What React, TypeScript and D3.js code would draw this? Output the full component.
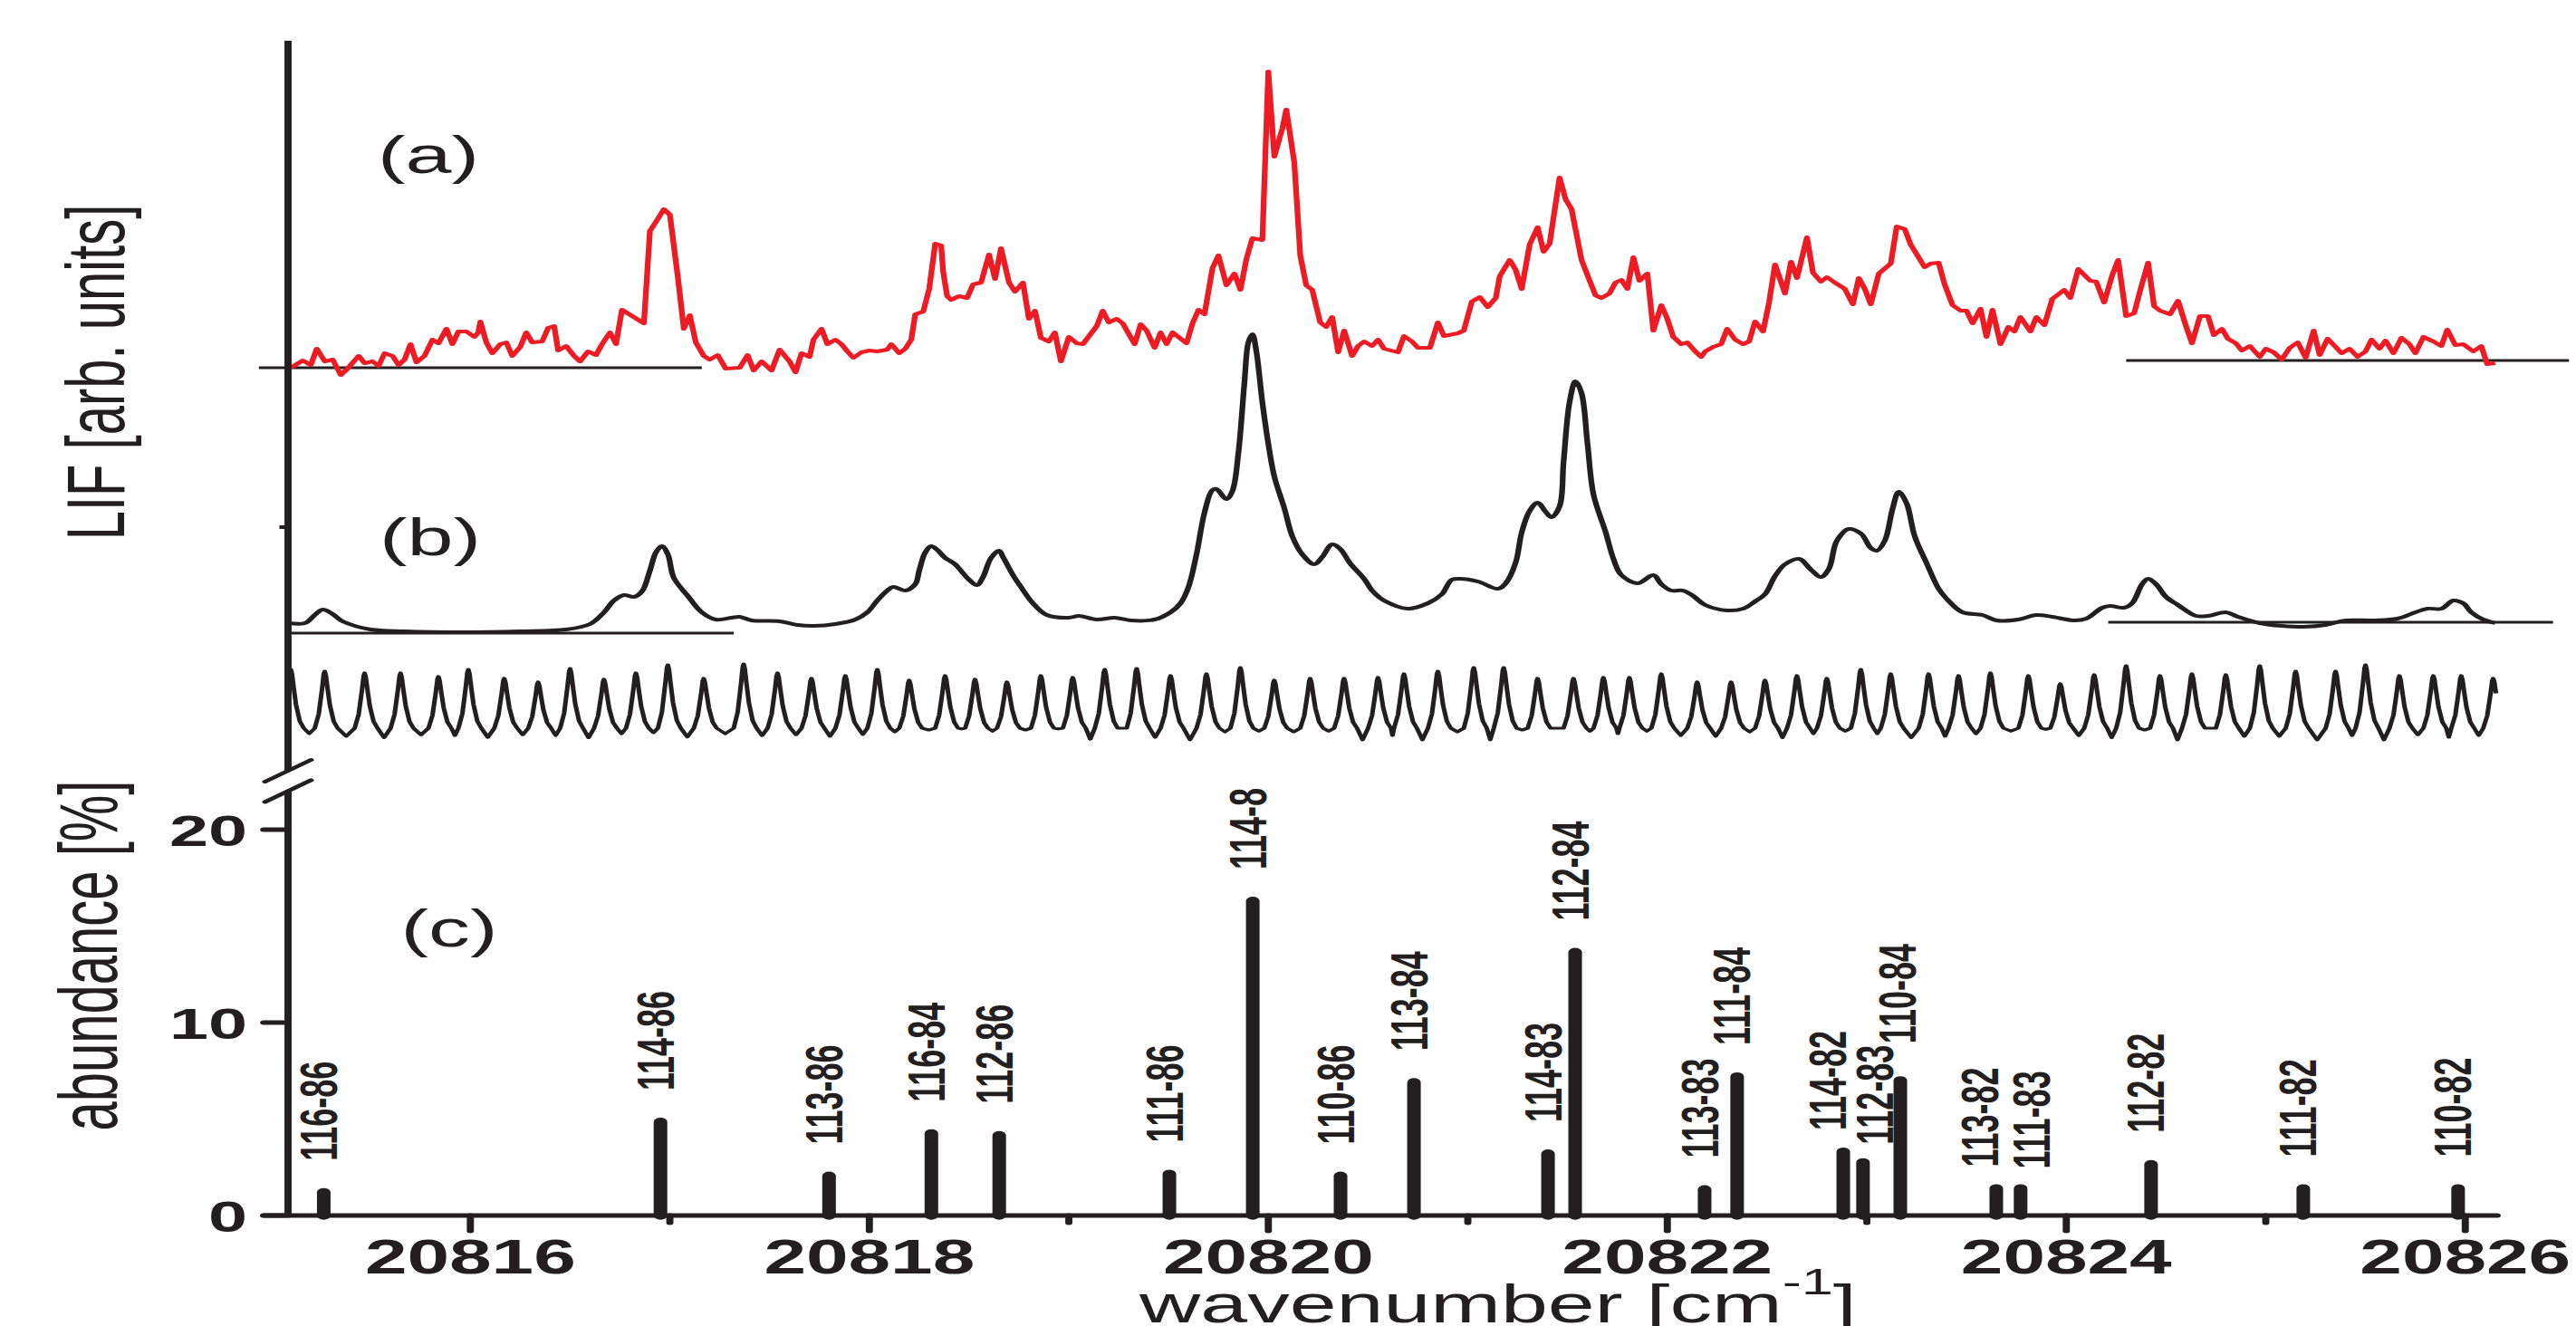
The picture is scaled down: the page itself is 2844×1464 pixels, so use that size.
import React from 'react';
import * as d3 from 'd3';

// ---------------- data ----------------
// (a) measured LIF spectrum, red: [wavenumber cm^-1, intensity arb.]
const traceA: [number, number][] = [
[20815.10,0],[20815.16,2],[20815.20,0.75],[20815.23,5.25],[20815.27,1.75],[20815.31,2.25],[20815.35,-2],[20815.38,-0.5],[20815.44,3.25],[20815.47,1.25],[20815.51,1.75],[20815.54,0.5],[20815.57,4],[20815.61,3.25],[20815.64,0.75],[20815.67,2.25],[20815.70,6.5],[20815.73,1.5],[20815.77,3.25],[20815.81,7.75],[20815.84,6.75],[20815.88,10.75],[20815.91,6.5],[20815.94,10],[20815.98,10],
[20816.02,8.5],[20816.04,9.75],[20816.05,12.75],[20816.08,7],[20816.11,4],[20816.15,6.5],[20816.18,7],[20816.21,3.25],[20816.25,5.75],[20816.28,9.75],[20816.31,7],[20816.36,7.25],[20816.39,11],[20816.42,11.5],[20816.44,4.75],[20816.48,6],[20816.52,3.25],[20816.55,1.75],[20816.59,4.5],[20816.63,3.5],[20816.66,6.5],[20816.70,9.75],[20816.73,6.5],[20816.76,16],[20816.87,12.25],[20816.90,37.75],[20816.93,40.25],[20816.97,43.75],
[20817.00,42.25],[20817.04,25],[20817.07,10.75],[20817.10,14.5],[20817.13,7],[20817.17,3.25],[20817.20,2.25],[20817.24,3.5],[20817.28,-0.25],[20817.35,0],[20817.39,3.5],[20817.42,-0.75],[20817.46,1.75],[20817.51,-0.75],[20817.55,5],[20817.60,1.75],[20817.63,-1.25],[20817.66,4],[20817.70,3],[20817.72,7.75],[20817.76,10.75],[20817.79,6.5],[20817.83,7.75],[20817.86,6.5],[20817.89,4.5],[20817.92,2.75],[20817.96,4.25],
[20818.00,4.75],[20818.04,4.5],[20818.09,5],[20818.11,6.5],[20818.15,4],[20818.18,5.25],[20818.21,7.75],[20818.23,14.75],[20818.27,15.5],[20818.30,21.75],[20818.33,34.25],[20818.36,33.75],[20818.37,26.5],[20818.39,19.75],[20818.41,18.75],[20818.45,19.75],[20818.49,19.25],[20818.52,23],[20818.56,23.5],[20818.60,31.25],[20818.63,24.5],[20818.66,33],[20818.70,23.5],[20818.73,21],[20818.77,23.5],[20818.80,13.5],[20818.83,15.75],[20818.86,8.25],[20818.90,7.25],[20818.93,9.75],[20818.96,1.75],
[20819.00,8.5],[20819.04,6.75],[20819.07,6.5],[20819.14,11.5],[20819.17,15.75],[20819.20,12.5],[20819.24,13.5],[20819.27,12.25],[20819.33,6.5],[20819.36,12],[20819.39,10.25],[20819.43,5.5],[20819.46,9.75],[20819.49,6.5],[20819.52,9.75],[20819.59,6.75],[20819.62,12.25],[20819.65,16],[20819.68,14.75],[20819.72,27.5],[20819.75,31],[20819.79,22.75],[20819.83,26],[20819.86,21.5],[20819.89,30],[20819.92,35.75],[20819.97,35.25],
[20820.00,81.75],[20820.03,58.25],[20820.07,66],[20820.09,71.25],[20820.13,56.75],[20820.16,31],[20820.19,22.75],[20820.22,21.5],[20820.26,12.5],[20820.29,11.25],[20820.32,14],[20820.35,4.25],[20820.38,10.25],[20820.42,3.25],[20820.45,6],[20820.48,7.25],[20820.52,6],[20820.55,7.75],[20820.58,5.25],[20820.65,4.25],[20820.68,8.75],[20820.72,7.25],[20820.75,5.5],[20820.81,5.5],[20820.85,12.5],[20820.88,8.75],[20820.95,9.5],[20820.98,10.25],
[20821.02,18.25],[20821.06,19.5],[20821.10,16.75],[20821.14,19.25],[20821.16,25.25],[20821.21,29.75],[20821.24,27],[20821.27,21.75],[20821.31,34],[20821.35,38.75],[20821.38,32],[20821.41,34.25],[20821.46,52.5],[20821.49,46.5],[20821.52,43.75],[20821.57,29.75],[20821.60,25.5],[20821.64,20],[20821.67,19.25],[20821.71,20.5],[20821.74,23.5],[20821.77,24.25],[20821.80,21.75],[20821.83,30.5],[20821.86,24],[20821.90,26],[20821.93,10.25],[20821.97,17.25],
[20822.00,13.5],[20822.03,8.5],[20822.07,6.5],[20822.10,7],[20822.14,4.5],[20822.17,3],[20822.19,4.5],[20822.23,5.75],[20822.27,6.5],[20822.30,10.75],[20822.34,7.75],[20822.38,6.5],[20822.41,7.25],[20822.44,12.75],[20822.48,10],[20822.51,18],[20822.54,28.5],[20822.59,20.5],[20822.62,29.25],[20822.65,24.75],[20822.70,36],[20822.73,26.25],[20822.77,23.75],[20822.80,25],[20822.84,23.5],[20822.89,21.75],[20822.93,17.5],[20822.96,24.75],[20822.99,21.75],
[20823.02,17.5],[20823.06,26],[20823.12,28.75],[20823.15,39],[20823.19,38.25],[20823.22,34],[20823.29,27.75],[20823.32,28.75],[20823.36,29],[20823.39,23],[20823.43,17.25],[20823.47,15.75],[20823.50,15.75],[20823.53,12.25],[20823.57,16.25],[20823.60,8.5],[20823.63,16],[20823.67,6.5],[20823.71,11.25],[20823.74,10],[20823.77,14],[20823.82,10],[20823.85,14],[20823.89,11.75],[20823.93,19],[20823.99,21.5],
[20824.02,19.25],[20824.06,27.25],[20824.12,24],[20824.15,23.75],[20824.19,18],[20824.23,25.5],[20824.26,29.75],[20824.30,14.25],[20824.34,15],[20824.37,21.25],[20824.41,29],[20824.44,17],[20824.47,15.75],[20824.52,14.75],[20824.56,18.5],[20824.60,11.5],[20824.63,6.75],[20824.67,14.25],[20824.71,14.25],[20824.74,9],[20824.78,10.75],[20824.81,8],[20824.85,6.75],[20824.88,4.75],[20824.92,6],[20824.97,3],
[20825.00,5.25],[20825.04,4.25],[20825.08,2.25],[20825.12,5.5],[20825.16,7],[20825.20,2.75],[20825.24,10.25],[20825.27,3.5],[20825.31,8],[20825.35,5.75],[20825.38,4],[20825.42,5.25],[20825.46,3],[20825.50,4.5],[20825.53,7.75],[20825.57,5.25],[20825.60,7.5],[20825.64,4],[20825.68,8.25],[20825.72,6.5],[20825.75,4],[20825.79,8.5],[20825.84,7.25],[20825.88,6],[20825.91,10.5],[20825.95,6.25],[20825.99,6.5],
[20826.04,4.5],[20826.08,6],[20826.11,1],[20826.15,1.25]
];

// (b) simulated spectrum, black
const traceB: [number, number][] = [
[20815.09,2.75],[20815.17,2.75],[20815.22,5],[20815.26,6.5],[20815.31,5.25],[20815.36,3.25],[20815.50,1],[20815.67,0.5],[20815.96,0.25],[20816.25,0.5],[20816.48,1],[20816.60,2.5],[20816.67,5.75],[20816.72,9],[20816.77,10.5],[20816.82,10],[20816.86,11.5],[20816.90,17.25],[20816.93,22.25],[20816.96,24],[20816.99,21.75],[20817.02,15.25],[20817.09,10.25],[20817.16,5.75],[20817.23,3.75],[20817.31,4.25],[20817.35,4.5],[20817.41,3.5],[20817.55,3.25],[20817.64,2.25],[20817.72,2],[20817.83,2.5],[20817.93,3.75],[20817.99,5.75],
[20818.04,9],[20818.09,11.75],[20818.12,12.75],[20818.18,11.75],[20818.23,13.5],[20818.25,17.25],[20818.28,22.25],[20818.31,24],[20818.34,23],[20818.38,20.75],[20818.43,19],[20818.47,16.5],[20818.50,14.75],[20818.54,13.25],[20818.57,15.5],[20818.61,20.75],[20818.65,22.75],[20818.67,21],[20818.72,16],[20818.76,12.75],[20818.82,8.25],[20818.89,5],
[20819.00,4.25],[20819.05,4.75],[20819.14,3.75],[20819.23,4.25],[20819.31,3.5],[20819.43,3.75],[20819.51,5.75],[20819.56,8.25],[20819.60,12.75],[20819.64,21.75],[20819.68,33.25],[20819.72,39.5],[20819.74,39.75],[20819.79,37],[20819.82,39.25],[20819.85,49.75],[20819.88,69],[20819.90,80.25],[20819.92,82.5],[20819.94,77.75],[20819.97,63.75],
[20820.00,52.25],[20820.03,43.25],[20820.08,34.5],[20820.12,26.75],[20820.17,21.75],[20820.23,19],[20820.27,21],[20820.32,24.5],[20820.36,23.25],[20820.41,19.25],[20820.48,15],[20820.52,11.75],[20820.58,9],[20820.70,6.75],[20820.80,8.25],[20820.87,10.75],[20820.92,14.75],[20820.96,15],
[20821.05,14.25],[20821.15,12.25],[20821.19,13.75],[20821.24,19.5],[20821.27,27.75],[20821.31,33.75],[20821.35,36],[20821.39,33.5],[20821.42,32],[20821.46,35],[20821.48,47.25],[20821.51,63.75],[20821.54,69.5],[20821.57,66.25],[20821.60,52.25],[20821.63,38.25],[20821.69,28],[20821.73,20.5],[20821.77,16],[20821.85,13.75],[20821.93,16],[20821.97,13.5],
[20822.02,11.75],[20822.08,11.75],[20822.13,10.25],[20822.19,7.75],[20822.30,6.25],[20822.38,6.75],[20822.44,8.75],[20822.49,10.75],[20822.54,15.75],[20822.59,19],[20822.66,20.5],[20822.72,17.5],[20822.77,15.5],[20822.81,17.75],[20822.85,25.5],[20822.91,28.75],[20822.97,27.5],
[20823.02,23.5],[20823.05,22.75],[20823.09,25.5],[20823.13,34.5],[20823.16,39],[20823.20,35.75],[20823.24,26.75],[20823.30,19.25],[20823.36,12.25],[20823.40,9.5],[20823.48,5.75],[20823.58,5],[20823.65,3.5],[20823.76,3.75],[20823.85,5],[20823.93,4.5],
[20824.04,3.5],[20824.10,4],[20824.18,7],[20824.22,7.5],[20824.29,7],[20824.33,8.25],[20824.38,13.5],[20824.41,15],[20824.45,13.5],[20824.50,10],[20824.56,7.75],[20824.65,4.75],[20824.71,4.75],[20824.80,5.75],[20824.86,4.5],[20824.97,2.75],
[20825.08,2],[20825.19,1.75],[20825.30,2.25],[20825.40,3.5],[20825.55,3.5],[20825.66,4],[20825.75,5.75],[20825.81,6.75],[20825.88,6.75],[20825.94,9],[20825.99,8.25],
[20826.03,5.75],[20826.09,3.75],[20826.15,2.75]
];

// etalon (frequency marker) fringes: peak [wavenumber, height] and the dip after each peak
const combPeaks: [number, number][] = [
[20815.10,20.25],[20815.27,19.75],[20815.47,19.25],[20815.65,19.25],[20815.84,18.25],[20815.99,20.25],[20816.17,17.75],[20816.34,16.75],[20816.50,20.5],[20816.67,17.5],[20816.83,19.25],[20816.99,21.5],[20817.17,17.75],[20817.37,21.75],[20817.54,19.25],[20817.71,17.75],[20817.88,18.5],[20818.04,20.25],
[20818.20,17.25],[20818.38,18.5],[20818.53,17.5],[20818.69,16.75],[20818.86,18.5],[20819.02,18],[20819.18,20.25],[20819.34,20.5],[20819.51,18.5],[20819.69,19],[20819.86,20.75],[20820.03,17.25],[20820.21,17.75],[20820.38,17.75],[20820.55,18],[20820.68,19],[20820.85,19.75],[20821.03,20.75],[20821.18,20.75],[20821.35,17.75],[20821.53,17.75],[20821.68,18],[20821.81,18],[20821.97,19],[20822.15,16.75],
[20822.32,16.75],[20822.49,17.25],[20822.65,18.5],[20822.80,17.75],[20822.97,20.25],[20823.12,19],[20823.31,19],[20823.46,18.5],[20823.62,19.25],[20823.81,18.5],[20823.97,16.25],[20824.14,18.75],[20824.30,21.25],[20824.47,18.5],[20824.63,19],[20824.80,18.75],[20824.97,21.25],[20825.15,19.75],[20825.35,19.75],[20825.50,21.5],[20825.67,18.5],[20825.84,18.5],[20825.98,18.5],[20826.14,17.75]
];
const combDips: number[] = [
2.5,1.8,1.4,2.2,2.0,1.5,2.2,2.0,1.4,2.5,2.8,1.6,2.5,2.0,2.2,1.8,2.3,
3.0,3.5,3.8,3.2,3.5,3.8,1.0,4.0,1.5,0.8,3.0,3.2,3.0,3.2,0.8,2.0,0.8,3.0,0.8,3.5,4.0,3.2,2.5,3.2,2.0,
1.8,3.0,1.4,2.5,3.2,2.5,1.4,1.8,2.5,3.2,3.7,2.0,1.4,3.5,0.8,4.0,1.8,1.8,0.8,2.0,0.8,2.2,1.5,2.0
];
const COMB_FLOOR = 4.0;

// vertical offsets of the stacked LIF traces (arb. units)
const offsetA = 103.5;
const offsetB = 30.25;
const offsetComb = 0;

// horizontal reference (zero) lines: [from, to, level]
const zeroLinesA: [number, number, number][] = [[20814.94, 20817.16, 0], [20824.30, 20826.52, 2]];
const zeroLinesB: [number, number, number][] = [[20815.09, 20817.32, 0], [20824.21, 20826.44, 3]];

// (c) isotopologue abundances
const barLabels = ['116-86','114-86','113-86','116-84','112-86','111-86','114-8','110-86','113-84','114-83','112-84','113-83','111-84','114-82','112-83','110-84','113-82','111-83','112-82','111-82','110-82'];
const barWavenumbers = [20815.265,20816.953,20817.798,20818.311,20818.651,20819.504,20819.922,20820.362,20820.730,20821.402,20821.538,20822.187,20822.350,20822.882,20822.981,20823.168,20823.649,20823.771,20824.425,20825.188,20825.964];
const barAbundance = [1.2,4.85,2.05,4.25,4.15,2.15,16.3,2.05,6.9,3.2,13.65,1.35,7.2,3.3,2.75,7.0,1.4,1.4,2.65,1.4,1.4];

// axes
const X_START = 20815.086;
const X_END = 20826.16;
const xMajorTicks = [20816, 20818, 20820, 20822, 20824, 20826];
const xMinorTicks = [20817, 20819, 20821, 20823, 20825];
const yAbTicks = [0, 10, 20];
const lifTicks = [59.5];
const LIF_TOP = 193.75;
const LIF_BREAK = -7.75;
const AB_TOP = 22;

// ---------------- layout ----------------
const W = 2844;
const H = 1464;
const SX = 1.58; // the figure is horizontally stretched
const BLACK = '#231f20';
const RED = '#ed1c24';
const FONT = "'Liberation Sans', Arial, Helvetica, sans-serif";
// drawing profile of one etalon fringe: [offset from peak (cm^-1), fraction toward floor]
const FRINGE: [number, number][] = [[-0.05,1],[-0.03,0.75],[-0.013,0.3],[-0.005,0.05],[0,0],[0.006,0.08],[0.014,0.3],[0.026,0.6],[0.045,0.88],[0.065,1]];
const labelNudge: Record<string, [number, number]> = {
  '114-82': [-18, 19], '112-83': [13, 15], '113-82': [-19, 19], '111-83': [12, 17], '110-84': [-4, 36],
};

export default function App() {
  const x = d3.scaleLinear().domain([X_START, X_END]).range([318 / SX, 2757 / SX]);
  const yLif = d3.scaleLinear().domain([0, 200]).range([820, 20]);
  const yAb = d3.scaleLinear().domain([0, 20]).range([1342, 916]);
  const ax = x(X_START);
  const TICK = 17;
  const MINOR = 8;

  const lineA = d3.line<[number, number]>().x(d => x(d[0])).y(d => yLif(d[1] + offsetA));
  const lineB = d3.line<[number, number]>().x(d => x(d[0])).y(d => yLif(d[1] + offsetB)).curve(d3.curveCatmullRom.alpha(0.5));
  const lineC = d3.line<[number, number]>().x(d => x(d[0])).y(d => yLif(d[1] + offsetComb));

  const combPts: [number, number][] = [];
  combPeaks.forEach(([v, h], i) => {
    FRINGE.forEach(([dv, f]) => combPts.push([v + dv, h + (COMB_FLOOR - h) * f]));
    if (i < combDips.length) {
      const a = v + 0.065;
      const b = combPeaks[i + 1][0] - 0.05;
      if (b > a) combPts.push([a + (b - a) * 0.5, combDips[i]]);
    }
  });
  const combVis = combPts.filter(p => p[0] >= X_START && p[0] <= X_END - 0.005);

  const yBreak1 = yLif(LIF_BREAK);
  const yBreak2 = yAb(AB_TOP);
  const xAxisY = yAb(0);

  return (
    <svg width={W} height={H} style={{ position: 'absolute', left: 0, top: 0, background: '#fff' }} fontFamily={FONT}>
      <rect width={W} height={H} fill="#fff" />
      <g transform={`scale(${SX},1)`}>
        {/* zero lines */}
        {zeroLinesA.map((z, i) => (
          <line key={'za' + i} x1={x(z[0])} x2={x(z[1])} y1={yLif(z[2] + offsetA)} y2={yLif(z[2] + offsetA)} stroke={BLACK} strokeWidth={3} />
        ))}
        {zeroLinesB.map((z, i) => (
          <line key={'zb' + i} x1={x(z[0])} x2={x(z[1])} y1={yLif(z[2] + offsetB)} y2={yLif(z[2] + offsetB)} stroke={BLACK} strokeWidth={3} />
        ))}
        {/* traces */}
        <path d={lineA(traceA) || ''} fill="none" stroke={RED} strokeWidth={4} strokeLinejoin="round" />
        <path d={lineB(traceB) || ''} fill="none" stroke={BLACK} strokeWidth={4} strokeLinejoin="round" />
        <path d={lineC(combVis) || ''} fill="none" stroke={BLACK} strokeWidth={3.2} strokeLinejoin="round" />

        {/* y axis (with break) */}
        <line x1={ax} x2={ax} y1={yLif(LIF_TOP)} y2={yBreak1} stroke={BLACK} strokeWidth={5} />
        <line x1={ax} x2={ax} y1={yBreak2} y2={xAxisY} stroke={BLACK} strokeWidth={5} />
        {[yBreak1, yBreak2].map((yy, i) => (
          <line key={'br' + i} x1={ax - 16} x2={ax + 16} y1={yy + 12} y2={yy - 12} stroke={BLACK} strokeWidth={4} strokeLinecap="round" />
        ))}
        {lifTicks.map(t => (
          <line key={'lt' + t} x1={ax - 6} x2={ax} y1={yLif(t)} y2={yLif(t)} stroke={BLACK} strokeWidth={4} />
        ))}
        {yAbTicks.map(t => (
          <g key={'yt' + t}>
            <line x1={ax - TICK} x2={ax} y1={yAb(t)} y2={yAb(t)} stroke={BLACK} strokeWidth={5} strokeLinecap="round" />
            <text x={273 / SX} y={yAb(t)} dy="0.36em" textAnchor="end" fontSize={49} fontWeight="bold" fill={BLACK}>{t}</text>
          </g>
        ))}

        {/* x axis */}
        <line x1={ax - TICK} x2={x(X_END)} y1={xAxisY} y2={xAxisY} stroke={BLACK} strokeWidth={5} strokeLinecap="round" />
        {xMajorTicks.map(t => (
          <g key={'xt' + t}>
            <line x1={x(t)} x2={x(t)} y1={xAxisY} y2={xAxisY + TICK} stroke={BLACK} strokeWidth={5} strokeLinecap="round" />
            <text x={x(t)} y={1406} textAnchor="middle" fontSize={53} fontWeight="bold" fill={BLACK}>{t}</text>
          </g>
        ))}
        {xMinorTicks.map(t => (
          <line key={'xm' + t} x1={x(t)} x2={x(t)} y1={xAxisY} y2={xAxisY + MINOR} stroke={BLACK} strokeWidth={5} strokeLinecap="round" />
        ))}

        {/* bars */}
        {barLabels.map((lab, i) => {
          const bx = x(barWavenumbers[i]);
          const top = yAb(barAbundance[i]);
          const [dxs, gap] = labelNudge[lab] || [-6, 30];
          const lx = bx + dxs / SX + 13;
          const ly = top - 4.75 - gap;
          return (
            <g key={'bar' + i}>
              <line x1={bx} x2={bx} y1={xAxisY} y2={top} stroke={BLACK} strokeWidth={9.5} strokeLinecap="round" />
              <text transform={`translate(${lx},${ly}) rotate(-90)`} fontSize={36} fontWeight="bold" fill={BLACK}>{lab}</text>
            </g>
          );
        })}

        {/* panel labels */}
        <text x={473 / SX} y={191} textAnchor="middle" fontSize={58} fill={BLACK}>(a)</text>
        <text x={475 / SX} y={613} textAnchor="middle" fontSize={58} fill={BLACK}>(b)</text>
        <text x={496 / SX} y={1045} textAnchor="middle" fontSize={58} fill={BLACK}>(c)</text>

        {/* axis titles */}
        <text transform={`translate(${86.5},${411}) rotate(-90)`} textAnchor="middle" fontSize={58} fill={BLACK}>LIF [arb. units]</text>
        <text transform={`translate(${81.5},${1055}) rotate(-90)`} textAnchor="middle" fontSize={58} fill={BLACK}>abundance [%]</text>
        <text x={1258 / SX} y={1460} fontSize={59} fill={BLACK}>
          wavenumber [cm<tspan fontSize={40} dy={-31}>-1</tspan><tspan dy={31}>]</tspan>
        </text>
      </g>
    </svg>
  );
}
